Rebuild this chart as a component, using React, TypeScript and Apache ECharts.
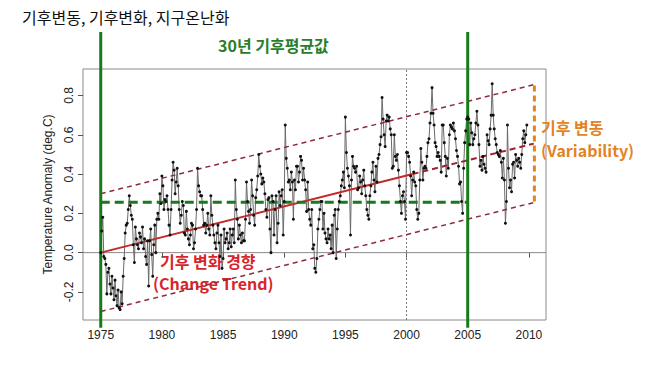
import React, { useEffect, useRef } from "react";
import * as echarts from "echarts";

// Monthly temperature anomaly (deg.C), Jan 1975 .. Nov 2009
const startYear = 1975;
const anomaly1975to1979 = [
  0.0, 0.11, 0.18, -0.02, -0.03, -0.06, -0.21, -0.1, -0.08, -0.16, -0.21, -0.12,
  -0.18, -0.24, -0.14, -0.22, -0.27, -0.19, -0.28, -0.29, -0.2, -0.26, -0.12, -0.03,
  0.1, 0.14, 0.15, 0.22, 0.29, 0.24, 0.19, 0.17, 0.04, -0.05, 0.13, 0.07,
  0.04, 0.02, 0.1, 0.08, 0.05, 0.13, 0.02, 0.07, -0.02, -0.06, 0.06, -0.17,
  0.06, 0.12, -0.01, -0.12, 0.04, 0.14, 0.0, 0.17, 0.2, 0.17, 0.3, 0.25,
];
const anomaly1980to1984 = [
  0.39, 0.34, 0.22, 0.27, 0.26, 0.29, 0.22, 0.14, 0.09, 0.22, 0.37, 0.46,
  0.42, 0.3, 0.36, 0.43, 0.34, 0.22, 0.15, 0.19, 0.26, 0.24, 0.1, 0.09,
  0.21, 0.12, 0.07, 0.04, 0.09, 0.15, 0.14, 0.02, 0.05, 0.12, 0.22, 0.43,
  0.34, 0.31, 0.29, 0.29, 0.22, 0.14, 0.15, 0.1, 0.14, 0.2, 0.12, 0.09,
  0.29, 0.19, 0.14, 0.09, 0.05, 0.02, 0.1, 0.14, 0.05, -0.02, 0.09, -0.08,
];
const anomaly1985to1989 = [
  -0.03, 0.12, 0.05, 0.07, 0.1, 0.02, 0.05, 0.12, 0.03, 0.09, 0.12, 0.05,
  0.37, 0.22, 0.17, 0.07, 0.14, 0.09, 0.05, 0.1, 0.06, 0.06, 0.17, 0.36,
  0.26, 0.21, 0.15, 0.22, 0.37, 0.29, 0.19, 0.14, 0.28, 0.32, 0.39, 0.5,
  0.44, 0.4, 0.35, 0.38, 0.36, 0.3, 0.22, 0.18, 0.27, 0.28, 0.12, 0.0,
  0.29, 0.26, 0.09, 0.22, 0.29, 0.05, 0.15, 0.31, 0.24, 0.29, 0.32, 0.09,
];
const anomaly1990to1994 = [
  0.26, 0.65, 0.48, 0.43, 0.36, 0.37, 0.32, 0.41, 0.36, 0.17, 0.37, 0.32,
  0.44, 0.44, 0.36, 0.41, 0.49, 0.47, 0.37, 0.43, 0.37, 0.32, 0.21, 0.36,
  0.22, 0.17, 0.14, 0.22, 0.02, 0.04, -0.08, -0.1, -0.03, 0.12, 0.17, 0.22,
  0.26, 0.26, 0.12, 0.2, 0.1, 0.07, 0.05, 0.12, 0.07, 0.09, 0.02, 0.14,
  0.0, 0.19, 0.22, -0.03, 0.12, 0.22, 0.26, 0.29, 0.34, 0.37, 0.41, 0.33,
];
const anomaly1995to1999 = [
  0.69, 0.51, 0.43, 0.39, 0.34, 0.09, 0.37, 0.49, 0.44, 0.43, 0.41, 0.44,
  0.32, 0.33, 0.39, 0.36, 0.3, 0.37, 0.42, 0.34, 0.29, 0.22, 0.19, 0.17,
  0.29, 0.34, 0.41, 0.46, 0.37, 0.31, 0.44, 0.36, 0.48, 0.5, 0.55, 0.59,
  0.79, 0.68, 0.6, 0.54, 0.67, 0.7, 0.67, 0.69, 0.63, 0.6, 0.43, 0.44,
  0.6, 0.49, 0.47, 0.5, 0.42, 0.34, 0.26, 0.2, 0.29, 0.31, 0.26, 0.17,
];
const anomaly2000to2004 = [
  0.51, 0.51, 0.49, 0.46, 0.39, 0.29, 0.37, 0.41, 0.36, 0.34, 0.22, 0.17,
  0.2, 0.37, 0.53, 0.46, 0.37, 0.43, 0.44, 0.43, 0.49, 0.56, 0.58, 0.66,
  0.71, 0.84, 0.71, 0.65, 0.56, 0.54, 0.49, 0.51, 0.49, 0.47, 0.41, 0.65,
  0.65, 0.56, 0.49, 0.39, 0.48, 0.43, 0.6, 0.65, 0.64, 0.63, 0.66, 0.62,
  0.58, 0.52, 0.49, 0.44, 0.35, 0.36, 0.26, 0.2, 0.43, 0.56, 0.62, 0.68,
];
const anomaly2005to2009 = [
  0.69, 0.68, 0.55, 0.66, 0.61, 0.55, 0.58, 0.6, 0.66, 0.72, 0.65, 0.55,
  0.44, 0.47, 0.42, 0.49, 0.45, 0.43, 0.41, 0.6, 0.57, 0.55, 0.63, 0.7,
  0.86, 0.7, 0.63, 0.58, 0.55, 0.51, 0.5, 0.49, 0.52, 0.46, 0.38, 0.48,
  0.37, 0.15, 0.26, 0.65, 0.43, 0.33, 0.37, 0.31, 0.45, 0.46, 0.38, 0.5,
  0.47, 0.44, 0.48, 0.46, 0.43, 0.5, 0.58, 0.62, 0.56, 0.6, 0.65,
];

const xTicks = [1975, 1980, 1985, 1990, 1995, 2000, 2005, 2010];
const yTicks = [-0.2, 0.0, 0.2, 0.4, 0.6, 0.8];
const xRange = [1973.55, 2011.4];
const yRange = [-0.343, 0.935];

const normalPeriod = [1975, 2005];
const normalValue = 0.256;
const greenLineSpan = [-0.383, 1.123];
const trendX = [1975, 2000.5, 2010.4];
const trendY = [0.0, 0.4, 0.555];
const bandX = [1975, 2010.4];
const bandUpper = [0.3, 0.855];
const bandLower = [-0.3, 0.255];
const variabilityX = 2010.45;
const variabilitySpan = [0.26, 0.86];
const referenceYear = 2000;

const KR = "'Noto Sans CJK KR', 'Noto Sans', sans-serif";

export default function App() {
  const ref = useRef<HTMLDivElement>(null);
  useEffect(() => {
    if (!ref.current) return;
    const chart = echarts.init(ref.current, null, { renderer: "svg" });
    const all = [
      ...anomaly1975to1979,
      ...anomaly1980to1984,
      ...anomaly1985to1989,
      ...anomaly1990to1994,
      ...anomaly1995to1999,
      ...anomaly2000to2004,
      ...anomaly2005to2009,
    ];
    const series = all.map((v, i) => [startYear + i / 12, v]);
    const green = "#187a18";
    const band = "#8e2b3b";

    const label = (text: string, x: number, y: number, size: number, color: string, bold = true) => ({
      type: "text",
      x,
      y,
      style: {
        text,
        fontSize: size,
        lineHeight: size,
        fontWeight: bold ? "bold" : "normal",
        fontFamily: KR,
        fill: color,
        align: "left",
        verticalAlign: "middle",
      },
    });

    chart.setOption({
      animation: false,
      grid: {
        left: 83,
        top: 69,
        right: 113,
        bottom: 50,
        show: true,
        borderColor: "#8a8a8a",
        borderWidth: 1,
        backgroundColor: "transparent",
      },
      xAxis: {
        type: "value",
        min: xRange[0],
        max: xRange[1],
        axisLine: { show: false },
        splitLine: { show: false },
        axisTick: {
          show: true,
          length: 5,
          customValues: xTicks,
          lineStyle: { color: "#555" },
        },
        axisLabel: {
          customValues: xTicks,
          margin: 9,
          fontSize: 12,
          color: "#222",
          fontFamily: "'Liberation Sans', Arial, sans-serif",
          formatter: (v: number) => String(Math.round(v)),
        },
      },
      yAxis: {
        type: "value",
        min: yRange[0],
        max: yRange[1],
        axisLine: { show: false },
        splitLine: { show: false },
        axisTick: {
          show: true,
          length: 5,
          customValues: yTicks,
          lineStyle: { color: "#555" },
        },
        axisLabel: {
          customValues: yTicks,
          rotate: 90,
          margin: 8,
          fontSize: 12,
          color: "#222",
          fontFamily: "'Liberation Sans', Arial, sans-serif",
          formatter: (v: number) => v.toFixed(1),
        },
        name: "Temperature Anomaly (deg.C)",
        nameLocation: "middle",
        nameGap: 29,
        nameTextStyle: {
          fontSize: 12,
          color: "#222",
          fontFamily: "'Liberation Sans', Arial, sans-serif",
        },
      },
      series: [
        {
          type: "line",
          data: [
            [xRange[0], 0],
            [xRange[1], 0],
          ],
          symbol: "none",
          silent: true,
          lineStyle: { color: "#8a8a8a", width: 1 },
        },
        {
          type: "line",
          data: [
            [referenceYear, yRange[0]],
            [referenceYear, yRange[1]],
          ],
          symbol: "none",
          silent: true,
          lineStyle: { color: "#777", width: 1, type: [2, 2] },
        },
        {
          type: "line",
          data: series,
          symbol: "circle",
          symbolSize: 3,
          showSymbol: true,
          itemStyle: { color: "#111" },
          lineStyle: { color: "#6a6a6a", width: 1 },
        },
        {
          type: "line",
          data: bandX.map((x, i) => [x, bandUpper[i]]),
          symbol: "none",
          lineStyle: { color: band, width: 1.5, type: [5, 4] },
        },
        {
          type: "line",
          data: bandX.map((x, i) => [x, bandLower[i]]),
          symbol: "none",
          lineStyle: { color: band, width: 1.5, type: [5, 4] },
        },
        {
          type: "line",
          data: [
            [trendX[0], trendY[0]],
            [trendX[1], trendY[1]],
          ],
          symbol: "none",
          lineStyle: { color: "#c42a2a", width: 2 },
        },
        {
          type: "line",
          data: [
            [trendX[1], trendY[1]],
            [trendX[2], trendY[2]],
          ],
          symbol: "none",
          lineStyle: { color: "#a0202e", width: 2, type: [6, 4] },
        },
        {
          type: "line",
          data: normalPeriod.map((x) => [x, normalValue]),
          symbol: "none",
          lineStyle: { color: green, width: 3, type: [9, 5] },
        },
        ...normalPeriod.map((x) => ({
          type: "line",
          data: greenLineSpan.map((y) => [x, y]),
          symbol: "none",
          clip: false,
          lineStyle: { color: green, width: 3 },
        })),
        {
          type: "line",
          data: variabilitySpan.map((y) => [variabilityX, y]),
          symbol: "none",
          clip: false,
          lineStyle: { color: "#e3841f", width: 3, type: [6, 4] },
        },
      ],
      graphic: [
        label("기후변동, 기후변화, 지구온난화", 22, 17, 16, "#111", false),
        label("30년 기후평균값", 218, 45, 16, "#2a7d2a"),
        label("기후 변화 경향", 160, 261, 16, "#d7262b"),
        label("(Change Trend)", 153, 283, 16, "#d7262b"),
        label("기후 변동", 541, 127, 16, "#e3841f"),
        label("(Variability)", 541, 150, 16, "#e3841f"),
      ],
    });
    return () => chart.dispose();
  }, []);
  return (
    <div
      ref={ref}
      style={{ position: "fixed", left: 0, top: 0, width: 659, height: 370, background: "#fff" }}
    />
  );
}
